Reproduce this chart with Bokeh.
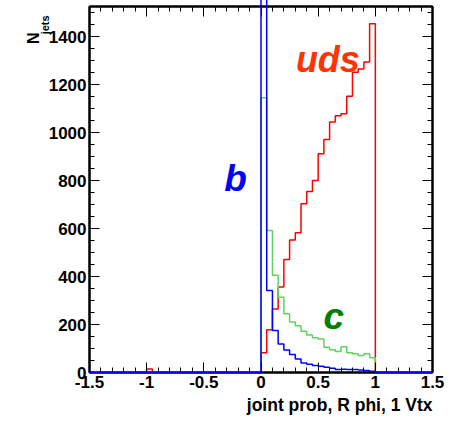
import math
from bokeh.plotting import figure
from bokeh.models import Range1d, FixedTicker, LinearAxis, Label, Title
from bokeh.embed import file_html
from bokeh.resources import INLINE

# ---- data (bin width 0.05, from -1.5 to 1.5, 60 bins) ----
bin_low = -1.5
bin_width = 0.05
n_bins = 60

uds_counts = ([0] * 10 + [15] + [0] * 19 +
              [82, 178, 265, 356, 471, 552, 582, 703, 754, 800,
               911, 971, 1044, 1070, 1078, 1151, 1251, 1265, 1294, 1453] +
              [0] * 10)
c_counts = ([0] * 30 +
            [1145, 592, 405, 314, 245, 210, 195, 172, 156, 145,
             140, 105, 95, 88, 107, 82, 78, 71, 78, 61] +
            [0] * 10)
b_counts = ([0] * 30 +
            [5200, 342, 175, 119, 94, 75, 56, 40, 34, 29,
             26, 22, 18, 12, 14, 13, 12, 10, 8, 5] +
            [0] * 10)

x_ticks = [-1.5, -1.0, -0.5, 0.0, 0.5, 1.0, 1.5]
x_tick_labels = ["-1.5", "-1", "-0.5", "0", "0.5", "1", "1.5"]
y_ticks = [0, 200, 400, 600, 800, 1000, 1200, 1400]

edges = [bin_low + bin_width * i for i in range(n_bins + 1)]
x_minor = [round(-1.5 + 0.1 * k, 3) for k in range(31)]
y_minor = [50 * k for k in range(31)]

FONT = "Liberation Sans"

p = figure(width=454, height=423, output_backend="svg", toolbar_location=None,
           x_range=Range1d(-1.5, 1.5), y_range=Range1d(0, 1525),
           min_border_left=89, min_border_right=22, min_border_top=6,
           min_border_bottom=51, background_fill_color="white",
           border_fill_color="white")
p.grid.visible = False
p.outline_line_color = "black"
p.outline_line_width = 2


def style_axis(ax, ticks, minor, show_labels):
    ax.ticker = FixedTicker(ticks=ticks, minor_ticks=minor)
    ax.major_tick_in = 10
    ax.major_tick_out = 0
    ax.minor_tick_in = 5
    ax.minor_tick_out = 0
    ax.major_tick_line_color = "black"
    ax.minor_tick_line_color = "black"
    ax.major_tick_line_width = 1
    ax.minor_tick_line_width = 1
    ax.axis_line_color = "black"
    ax.axis_line_width = 2
    if show_labels:
        ax.major_label_text_font = FONT
        ax.major_label_text_font_style = "bold"
        ax.major_label_text_font_size = "17px"
        ax.major_label_text_color = "black"
        ax.major_label_standoff = 3
    else:
        ax.major_label_overrides = {t: "" for t in ticks}
        ax.major_label_text_font_size = "1px"
        ax.major_label_standoff = 0


style_axis(p.xaxis[0], x_ticks, x_minor, True)
p.xaxis[0].major_label_overrides = dict(zip(x_ticks, x_tick_labels))
style_axis(p.yaxis[0], y_ticks, y_minor, True)

top_ax = LinearAxis()
style_axis(top_ax, x_ticks, x_minor, False)
p.add_layout(top_ax, "above")
right_ax = LinearAxis()
style_axis(right_ax, y_ticks, y_minor, False)
p.add_layout(right_ax, "right")


# y-axis title "N_jets": rotated texts placed as single-tick labels of bare axes
def text_axis(text, at, size, standoff):
    ax = LinearAxis(ticker=FixedTicker(ticks=[at], minor_ticks=[]))
    ax.major_label_overrides = {at: text}
    ax.major_label_orientation = math.pi / 2
    ax.major_label_text_font = FONT
    ax.major_label_text_font_style = "bold"
    ax.major_label_text_font_size = size
    ax.major_label_text_color = "black"
    ax.major_label_standoff = standoff
    ax.axis_line_color = None
    ax.major_tick_line_color = None
    ax.minor_tick_line_color = None
    ax.major_tick_in = 0
    ax.major_tick_out = 0
    return ax


p.add_layout(text_axis("jets", 1488, "11px", 0), "left")
p.add_layout(text_axis("N", 1417, "16px", -3), "left")


def steps(counts):
    return edges, list(counts) + [counts[-1]]


xs, ys = steps(uds_counts)
p.step(xs, ys, mode="after", line_color="#ff0000", line_width=1.5)
xs, ys = steps(c_counts)
p.step(xs, ys, mode="after", line_color="#5fd35f", line_width=1.5)
xs, ys = steps(b_counts)
p.step(xs, ys, mode="after", line_color="#0000ff", line_width=1.5, level="overlay")

p.add_layout(Label(x=0.585, y=1304, text="uds", text_font=FONT,
                   text_font_style="bold italic", text_font_size="36px",
                   text_color="#ff3300", text_align="center",
                   text_baseline="alphabetic"))
p.add_layout(Label(x=-0.223, y=807, text="b", text_font=FONT,
                   text_font_style="bold italic", text_font_size="37px",
                   text_color="#0000ff", text_align="center",
                   text_baseline="alphabetic"))
p.add_layout(Label(x=0.637, y=235, text="c", text_font=FONT,
                   text_font_style="bold italic", text_font_size="37px",
                   text_color="#008000", text_align="center",
                   text_baseline="alphabetic"))

# x-axis title
p.add_layout(Title(text="joint prob, R phi, 1 Vtx", align="right",
                   text_font=FONT, text_font_style="bold",
                   text_font_size="17.5px", text_color="black",
                   standoff=4, offset=0), "below")

open("out.html", "w").write(file_html(p, INLINE))
